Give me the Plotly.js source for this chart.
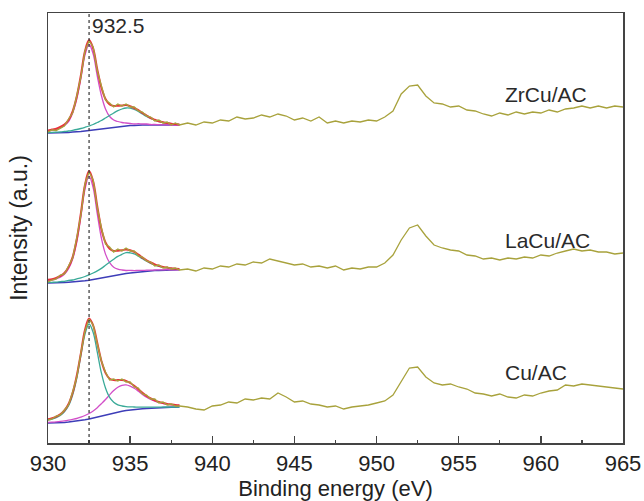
<!DOCTYPE html>
<html>
<head>
<meta charset="utf-8">
<script src="https://cdn.plot.ly/plotly-3.0.1.min.js"></script>
<style>html,body{margin:0;padding:0;background:#fff;}#chart{width:644px;height:501px;}</style>
</head>
<body>
<div id="chart"></div>
<script>
// Binding energy grids (eV)
const xFit = [930,930.25,930.5,930.75,931,931.25,931.5,931.75,932,932.25,932.5,932.75,933,933.25,933.5,933.75,934,934.25,934.5,934.75,935,935.25,935.5,935.75,936,936.25,936.5,936.75,937,937.25,937.5,937.75,938];
const xData = [930,930.25,930.5,930.75,931,931.25,931.5,931.75,932,932.25,932.5,932.75,933,933.25,933.5,933.75,934,934.25,934.5,934.75,935,935.25,935.5,935.75,936,936.25,936.5,936.75,937,937.25,937.5,937.75,938,
938.5,939,939.5,940,940.5,941,941.5,942,942.5,943,943.5,944,944.5,945,945.5,946,946.5,947,947.5,948,948.5,949,949.5,950,950.5,951,951.5,952,952.5,953,953.5,954,954.5,955,955.5,956,956.5,957,957.5,958,958.5,959,959.5,960,960.5,961,961.5,962,962.5,963,963.5,964,964.5,965];

// Sample labels
const samples = ["ZrCu/AC", "LaCu/AC", "Cu/AC"];

// ZrCu/AC (stacked, arbitrary intensity units)
const zrData = [311,313,312.5,315,317,324,330,347,366,392,402,396,372,357,343,340,336,339,337,339,336,336,332,331,327,326,322,323,320,321,318,320,318,
320,318,321,320,323,322,326,324,325,328,326,329,327,323,325,322,326,320,322,320,322,321,323,322,326,332,349,357,358,347,340,339,336,337,333,332,329,327,330,328,331,329,331,330,333,331,334,335,337,335,337,335,337,336];
const zrBase = [310,310,310,310,310.5,310.5,311,311,311.5,312,312.5,313,314,314.5,315,315.5,316,316.5,317,317,317.5,317.5,318,318,318,318,318,318,318,318,318,318,318];
const zrPeak1 = [312,313,313.5,315,317.5,321.5,330,344,364.5,388,398.5,389,367,347.5,334,326.5,323,321.5,320.5,320,319.5,319,319.3,319,319,318.5,318.5,318.3,318.2,318.1,318,318,318];
const zrPeak2 = [310.5,310.6,310.8,311,311.5,312,312.7,313.5,314.5,315.7,317,318.5,320.5,322.5,325,327.5,330,332.3,334,335,334.8,333.5,331.5,329,326.5,324.5,322.8,321.5,320.5,319.8,319.3,318.9,318.6];
const zrFit = [312.5,313.6,314.3,316,318.5,323,331.7,346.5,367.5,391.7,403,394.5,373.5,355.5,344,338.5,337,337.3,337.5,338,336.8,335,332.8,330,327.5,325,323.3,321.8,320.7,319.9,319.3,318.9,318.6];

// LaCu/AC
const laData = [161,163,164,168,169,177,185,205,228,259,271,263,235,215,199,196,191,194,192,195,192,192,187,186,182,181,177,178,175,176,174,175,173,
174,172,175,174,177,176,179,178,181,180,184,182,180,178,179,176,177,175,177,173,175,174,176,176,180,188,203,215,218,207,198,195,193,192,188,187,184,185,183,185,184,186,185,188,187,190,192,194,192,193,191,191,189,190];
const laBase = [160,160,160,160.2,160.5,160.8,161,161.3,161.7,162.2,162.8,163.6,164.5,165.3,166,166.8,167.5,168.2,168.8,169.4,170,170.5,171,171.4,171.8,172.1,172.4,172.6,172.8,173,173,173.1,173.2];
const laPeak1 = [162.6,163.1,164.2,165.9,168.8,174.3,183.9,200.8,226.2,253.7,266.8,255.1,229,204.8,188.9,180.3,175.8,173.9,173,172.5,172.6,172.4,172.6,172.6,172.8,172.9,173,173.1,173.2,173.3,173.2,173.2,173.2];
const laPeak2 = [160.6,160.7,160.9,161.4,161.7,162.6,163,164.2,165.2,166.5,168.1,170,172.1,174.6,177.7,180.8,183.8,186.6,188.6,190.4,190.2,189.2,186.8,184.2,181.7,179.7,178,176.7,175.7,175.1,174.5,174.2,173.9];
const laFit = [163.2,163.8,165.1,167.1,170,176.1,185.9,203.7,229.7,258,272.1,261.5,236.6,214.1,200.6,194.3,192.1,192.3,192.8,193.5,192.8,191.1,188.4,185.4,182.7,180.5,178.6,177.2,176.1,175.4,174.7,174.3,173.9];

// Cu/AC
const cuData = [23,24,27,28,33,38,51,66,90,112,124,118,99,82,71,63,64,62,64,61,61,56,55,49,48,44,44,40,41,38,39,37,37,
36,34,33,37,38,41,40,44,43,45,44,50,46,41,42,39,38,36,37,34,36,37,38,40,42,48,62,75,76,66,60,58,59,56,54,50,49,47,49,46,45,48,47,50,52,53,58,57,59,58,57,56,55,54];
const cuBase = [20,20,20.2,20.4,20.6,21,21.4,21.9,22.5,23.2,24,25,26.2,27.3,28.4,29.4,30.3,31.1,31.8,32.4,33,33.5,33.9,34.3,34.6,34.9,35.1,35.3,35.5,35.6,35.7,35.8,35.9];
const cuPeak1 = [23.1,24,25.4,27.5,31.1,37.2,48,64.7,87.1,108.7,119,110.5,90.8,70.1,55,45.6,40.8,38.2,37,36.4,36.1,36,35.8,35.8,35.8,35.9,35.9,35.9,36,36,36,36,36];
const cuPeak2 = [20.7,20.9,21.2,21.6,22.1,22.8,23.6,24.5,25.9,27.5,29.5,32,35.3,39.3,43.5,48.1,52.4,55.8,57.7,58.1,56.9,54.8,51.8,48.6,45.8,43.7,41.9,40.5,39.5,38.7,38.3,37.9,37.6];
const cuFit = [23.8,24.9,26.4,28.7,32.6,39,50.2,67.3,89.6,113,124.5,117.5,99.9,82.1,70.1,64.3,62.9,62.9,62.9,62.1,60,57.3,53.7,50.1,47,44.7,42.7,41.1,40,39.1,38.6,38.1,37.7];

// Reference line and tick labels
const refEnergy = 932.5;
const refLabel = "932.5";
const xTicks = [930,935,940,945,950,955,960,965];

const C = {data:"#a8a23c", fit:"#e8323c", mag:"#d24fc8", teal:"#3aaa98", blue:"#3d3db8"};
const traces = [];
function addSample(base, p1, p2, fit, data, c1, c2){
  traces.push({x:xFit, y:base, mode:"lines", line:{color:C.blue, width:1.5}, hoverinfo:"skip"});
  traces.push({x:xFit, y:p1, mode:"lines", line:{color:c1, width:1.3, shape:"spline"}, hoverinfo:"skip"});
  traces.push({x:xFit, y:p2, mode:"lines", line:{color:c2, width:1.3, shape:"spline"}, hoverinfo:"skip"});
  traces.push({x:xFit, y:fit, mode:"lines", line:{color:C.fit, width:2, shape:"spline"}, hoverinfo:"skip"});
  traces.push({x:xData, y:data, mode:"lines", line:{color:C.data, width:1.3}, hoverinfo:"skip"});
}
addSample(zrBase, zrPeak1, zrPeak2, zrFit, zrData, C.mag, C.teal);
addSample(laBase, laPeak1, laPeak2, laFit, laData, C.mag, C.teal);
addSample(cuBase, cuPeak2, cuPeak1, cuFit, cuData, C.mag, C.teal);

const font = "Arial, 'Liberation Sans', sans-serif";
const labelY = [349, 203, 71];
const annotations = samples.map((s,i)=>({x:957.7, y:labelY[i], xref:"x", yref:"y", text:s, showarrow:false, xanchor:"left", yanchor:"middle", font:{family:font, size:21, color:"#2a2a2a"}}));
annotations.push({x:refEnergy+0.05, y:418, xref:"x", yref:"y", text:refLabel, showarrow:false, xanchor:"left", yanchor:"middle", font:{family:font, size:21, color:"#2a2a2a"}});

const layout = {
  width:644, height:501,
  margin:{l:48, r:21, t:13, b:58},
  paper_bgcolor:"#fff", plot_bgcolor:"#fff",
  showlegend:false,
  font:{family:font, color:"#222"},
  xaxis:{range:[930,965], tickvals:xTicks, ticktext:xTicks.map(String), ticks:"inside", ticklen:7, tickwidth:1.3, tickcolor:"#444",
    minor:{dtick:2.5, ticks:"inside", ticklen:3, tickwidth:1.2, tickcolor:"#444"},
    showline:true, linecolor:"#444", linewidth:1.5, mirror:true, showgrid:false, zeroline:false,
    tickfont:{family:font, size:22, color:"#222"},
    title:{text:"Binding energy (eV)", font:{family:font, size:22, color:"#222"}, standoff:6}},
  yaxis:{range:[0,430], showticklabels:false, ticks:"", showline:true, linecolor:"#444", linewidth:1.5, mirror:true, showgrid:false, zeroline:false,
    title:{text:"Intensity (a.u.)", font:{family:font, size:23, color:"#222"}, standoff:12}},
  shapes:[{type:"line", xref:"x", yref:"paper", x0:refEnergy, x1:refEnergy, y0:0, y1:1, line:{color:"#333", width:1.2, dash:"dot"}}],
  annotations:annotations
};
Plotly.newPlot("chart", traces, layout, {displayModeBar:false, staticPlot:true});
</script>
</body>
</html>
